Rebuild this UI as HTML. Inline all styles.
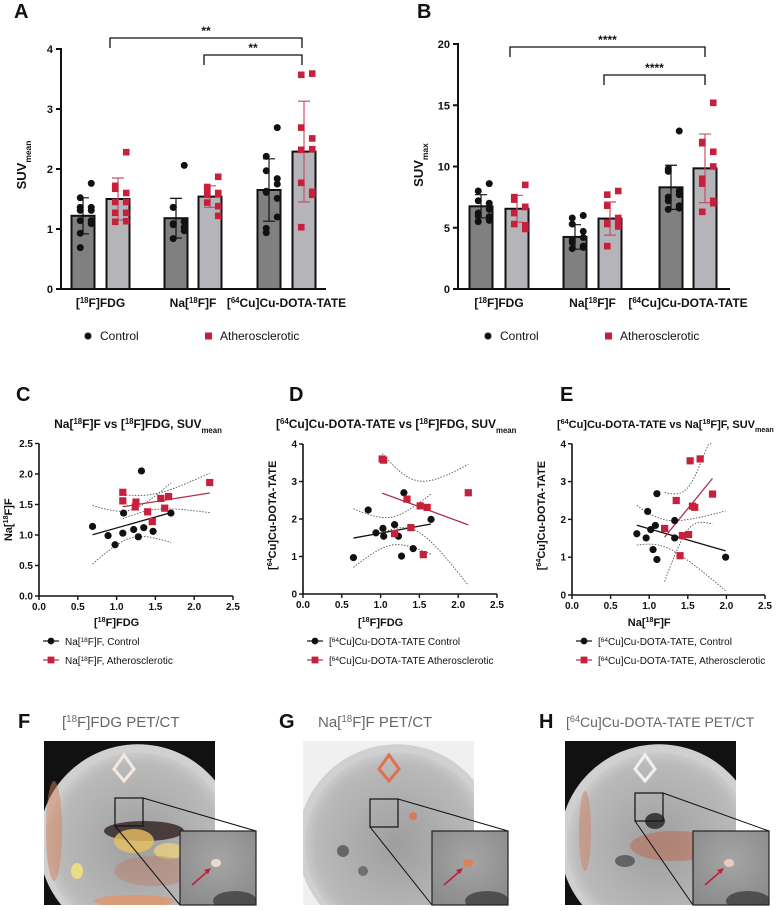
<!DOCTYPE html>
<html><head><meta charset="utf-8"><style>
html,body{margin:0;padding:0;background:#fff;}
svg{display:block;font-family:"Liberation Sans",Arial,sans-serif;}
</style></head><body>
<svg id="fig" width="780" height="911" viewBox="0 0 780 911" xmlns="http://www.w3.org/2000/svg">
<defs id="defs">
<radialGradient id="ctg" cx="50%" cy="50%" r="55%"><stop offset="0" stop-color="#9e9e9e"/><stop offset="0.8" stop-color="#bababa"/><stop offset="1" stop-color="#d8d8d8"/></radialGradient>
<radialGradient id="ins" cx="50%" cy="40%" r="70%"><stop offset="0" stop-color="#a5a5a5"/><stop offset="1" stop-color="#8a8a8a"/></radialGradient>
</defs>
</svg>
<script>
// ---------- Data: panel A (SUVmean) ----------
const groups = ["[18F]FDG", "Na[18F]F", "[64Cu]Cu-DOTA-TATE"];
const aCtrlMean = [1.22, 1.18, 1.65];
const aCtrlSd = [0.30, 0.33, 0.52];
const aAthMean = [1.50, 1.54, 2.29];
const aAthSd = [0.35, 0.18, 0.84];
const aCtrlPts = [[1.76,1.52,1.36,1.36,1.31,1.31,1.14,1.14,1.09,0.93,0.69],[2.06,1.36,1.36,1.13,1.12,1.09,1.07,1.03,0.97,0.84],[2.69,2.21,1.97,1.84,1.75,1.63,1.61,1.51,1.20,1.01,0.94]];
const aAthPts = [[2.28,1.72,1.67,1.60,1.45,1.45,1.27,1.27,1.13,1.12],[1.87,1.70,1.63,1.60,1.58,1.57,1.44,1.38,1.22],[3.59,3.57,2.69,2.51,2.33,2.32,1.77,1.62,1.57,1.03]];
const aTicks = [0,1,2,3,4];
// ---------- Data: panel B (SUVmax) ----------
const bCtrlMean = [6.75, 4.25, 8.3];
const bCtrlSd = [0.95, 1.0, 1.8];
const bAthMean = [6.55, 5.75, 9.85];
const bAthSd = [1.1, 1.35, 2.8];
const bCtrlPts = [[8.6,8.0,7.2,7.0,6.5,6.2,6.0,5.9,5.6,5.5],[6.0,5.8,5.3,4.7,4.2,4.0,3.8,3.5,3.4,3.3],[12.9,9.8,9.6,8.0,7.7,7.5,7.2,6.8,6.6,6.5]];
const bAthPts = [[8.5,7.5,7.3,6.7,6.7,6.2,5.3,5.2,4.9],[8.0,7.7,6.8,5.8,5.5,5.4,5.3,5.2,5.1,3.5],[15.2,12.0,11.9,11.2,10.0,9.0,8.6,7.2,7.0,6.3]];
const bTicks = [0,5,10,15,20];
// ---------- Data: panel C ----------
const cCtrlX = [0.69,0.89,0.98,1.08,1.09,1.22,1.28,1.32,1.35,1.47,1.70];
const cCtrlY = [1.14,0.99,0.84,1.03,1.36,1.09,0.97,2.05,1.12,1.06,1.36];
const cAthX = [1.08,1.08,1.24,1.25,1.40,1.46,1.57,1.62,1.67,2.20];
const cAthY = [1.56,1.70,1.46,1.54,1.38,1.22,1.60,1.44,1.63,1.86];
const cYTicks = [0,0.5,1.0,1.5,2.0,2.5];
// ---------- Data: panel D ----------
const dCtrlX = [0.65,0.84,0.94,1.03,1.04,1.18,1.23,1.27,1.30,1.42,1.65];
const dCtrlY = [0.97,2.24,1.63,1.75,1.54,1.85,1.54,1.01,2.70,1.21,1.99];
const dAthX = [1.02,1.04,1.18,1.34,1.39,1.51,1.60,1.55,2.13];
const dAthY = [3.60,3.57,1.61,2.53,1.77,2.35,2.31,1.05,2.70];
// ---------- Data: panel E ----------
const eCtrlX = [0.84,0.96,0.98,1.02,1.08,1.05,1.10,1.10,1.33,1.33,1.99];
const eCtrlY = [1.62,1.51,2.21,1.73,1.84,1.20,0.94,2.68,1.51,1.97,1.00];
const eAthX = [1.20,1.35,1.40,1.43,1.51,1.53,1.56,1.59,1.66,1.82];
const eAthY = [1.76,2.50,1.04,1.57,1.60,3.55,2.35,2.32,3.60,2.67];
const xTicksScatter = [0,0.5,1.0,1.5,2.0,2.5];
const yTicksCu = [0,1,2,3,4];

const NS = "http://www.w3.org/2000/svg";
const svg = document.getElementById('fig');
const defs = document.getElementById('defs');
const RED = "#c8203c";
function mk(tag, attrs, parent){ const e=document.createElementNS(NS,tag); for(const k in attrs) e.setAttribute(k,attrs[k]); (parent||svg).appendChild(e); return e; }
function grp(name){ const g=mk('g',{});   return g; }
function rtext(parent, x, y, parts, opts){
  const t=mk('text',Object.assign({x:x,y:y,'font-size':12,'font-weight':'bold',fill:'#111'},opts||{}),parent);
  const fs=(opts&&opts['font-size'])||12;
  parts.forEach(p=>{ const s=mk('tspan',{},t); s.textContent=p[0];
    if(p[1]===1){s.setAttribute('baseline-shift','super');s.setAttribute('font-size',fs*0.65);}
    if(p[1]===2){s.setAttribute('baseline-shift','sub');s.setAttribute('font-size',fs*0.65);} });
  return t;
}
const groupParts = [[["[",0],["18",1],["F]FDG",0]],[["Na[",0],["18",1],["F]F",0]],[["[",0],["64",1],["Cu]Cu-DOTA-TATE",0]]];

function barPanel(cfg){
  const g=grp(cfg.name);
  const y=v=>cfg.y0-(v/cfg.ymax)*(cfg.y0-cfg.ytop);
  const L=mk('text',{x:cfg.lx,y:18,'font-size':20,'font-weight':'bold',fill:'#111'},g); L.textContent=cfg.letter;
   
  for(let i=0;i<3;i++){
    [[cfg.ctrlMean,cfg.ctrlSd,cfg.ctrlPts,cfg.cx[i],'#808080','#111',0],[cfg.athMean,cfg.athSd,cfg.athPts,cfg.ax[i],'#b5b5b9','#c05466',1]].forEach(s=>{
      const m=s[0][i], sd=s[1][i], cx=s[3];
      const b=mk('rect',{x:cx-11.5,y:y(m),width:23,height:cfg.y0-y(m),fill:s[4],stroke:'#111','stroke-width':2},g);
       
      const e=mk('path',{d:`M${cx},${y(m-sd)}V${y(m+sd)}M${cx-6},${y(m+sd)}H${cx+6}M${cx-6},${y(m-sd)}H${cx+6}`,stroke:s[5],'stroke-width':1.2,fill:'none'},g);
       
      const pts=s[2][i];
      pts.forEach((v,k)=>{
        const off=((k%4)-1.5)*5.5*(k%2?1:-1);
        const px=cx+off, py=y(v);
        let p;
        if(s[6]) p=mk('rect',{x:px-3.3,y:py-3.3,width:6.6,height:6.6,fill:RED},g);
        else p=mk('circle',{cx:px,cy:py,r:3.5,fill:'#111'},g);
         
      });
    });
  }
  const ax=mk('path',{d:`M${cfg.ax0},${cfg.ytop-1}V${cfg.y0}H${cfg.axEnd}`,stroke:'#111','stroke-width':2,fill:'none'},g);
   
  cfg.ticks.forEach(t=>{
    mk('line',{x1:cfg.ax0-5,x2:cfg.ax0,y1:y(t),y2:y(t),stroke:'#111','stroke-width':2},g);
    const tl=mk('text',{x:cfg.ax0-8,y:y(t)+4,'font-size':11,'font-weight':'bold','text-anchor':'end',fill:'#111'},g); tl.textContent=t;
     
  });
  for(let i=0;i<3;i++){
    const c=(cfg.cx[i]+cfg.ax[i])/2;
    const t=rtext(g,c,307,groupParts[i],{'text-anchor':'middle','font-size':12});
     
  }
  const yl=rtext(g,0,0,[["SUV",0],[cfg.sub,2]],{'text-anchor':'middle','font-size':13,transform:`translate(${cfg.ax0-35},165) rotate(-90)`});
   
  cfg.brackets.forEach(br=>{
    const bb=mk('path',{d:`M${br[0]},${br[2]+10}V${br[2]}H${br[1]}V${br[2]+10}`,stroke:'#111','stroke-width':1.3,fill:'none'},g);
     
    const st=mk('text',{x:(br[0]+br[1])/2+br[4],y:br[2]-3,'font-size':12,'font-weight':'bold','text-anchor':'middle',fill:'#111'},g); st.textContent=br[3];
     
  });
  const lg=mk('g',{},g);  
  mk('circle',{cx:cfg.legX,cy:336,r:3.5,fill:'#111'},lg);
  const t1=mk('text',{x:cfg.legX+12,y:340,'font-size':12,fill:'#111'},lg); t1.textContent='Control';
   
  mk('rect',{x:cfg.legX+117,y:332.5,width:7,height:7,fill:RED},lg);
  const t2=mk('text',{x:cfg.legX+132,y:340,'font-size':12,fill:'#111'},lg); t2.textContent='Atherosclerotic';
   
}
barPanel({name:'panel-a-suvmean',letter:'A',lx:14,y0:289,ytop:49,ymax:4,ticks:aTicks,ax0:61,axEnd:326,cx:[83,176,269],ax:[118,210,304],
  ctrlMean:aCtrlMean,ctrlSd:aCtrlSd,athMean:aAthMean,athSd:aAthSd,ctrlPts:aCtrlPts,athPts:aAthPts,sub:'mean',
  brackets:[[110,302,38,'**',0],[204,302,55,'**',0]],legX:88});
barPanel({name:'panel-b-suvmax',letter:'B',lx:417,y0:289,ytop:44,ymax:20,ticks:bTicks,ax0:458,axEnd:730,cx:[481,575,671],ax:[517,610,705],
  ctrlMean:bCtrlMean,ctrlSd:bCtrlSd,athMean:bAthMean,athSd:bAthSd,ctrlPts:bCtrlPts,athPts:bAthPts,sub:'max',
  brackets:[[510,705,47,'****',0],[604,705,75,'****',0]],legX:488});

function fit(xs,ys){
  const n=xs.length, mx=xs.reduce((a,b)=>a+b)/n, my=ys.reduce((a,b)=>a+b)/n;
  let sxx=0,sxy=0; for(let i=0;i<n;i++){sxx+=(xs[i]-mx)**2; sxy+=(xs[i]-mx)*(ys[i]-my);}
  const b=sxy/sxx, a=my-b*mx; let sse=0; for(let i=0;i<n;i++) sse+=(ys[i]-a-b*xs[i])**2;
  return {a,b,mx,sxx,n,s:Math.sqrt(sse/(n-2))};
}
function scatterPanel(cfg){
  const g=grp(cfg.name);
  const X=v=>cfg.x0+v*cfg.kx, Y=v=>cfg.y0-v*cfg.ky;
  const L=mk('text',{x:cfg.lx,y:401,'font-size':20,'font-weight':'bold',fill:'#111'},g); L.textContent=cfg.letter;
   
  const ti=rtext(g,cfg.tx,428,cfg.title,{'font-size':cfg.tfs||12,'text-anchor':cfg.tanchor||'start'});
   
  [[cfg.cx,cfg.cy,'#111'],[cfg.axs,cfg.ays,'#b0304a']].forEach(s=>{
    const f=fit(s[0],s[1]); const lo=Math.min(...s[0]), hi=Math.max(...s[0]);
    const l=mk('line',{x1:X(lo),y1:Y(f.a+f.b*lo),x2:X(hi),y2:Y(f.a+f.b*hi),stroke:s[2],'stroke-width':1.3},g);
     
    [1,-1].forEach(sg=>{
      let d=''; for(let k=0;k<=30;k++){ const xv=lo+(hi-lo)*k/30;
        const h=2.306*f.s*Math.sqrt(1/f.n+(xv-f.mx)**2/f.sxx);
        let yv=f.a+f.b*xv+sg*h; yv=Math.max(cfg.ymin,Math.min(cfg.ymaxc,yv));
        d+=(k?'L':'M')+X(xv).toFixed(1)+','+Y(yv).toFixed(1);}
      const c=mk('path',{d:d,stroke:'#555','stroke-width':0.9,'stroke-dasharray':'1.5,1.5',fill:'none'},g);
       
    });
  });
  cfg.cx.forEach((v,i)=>{ const p=mk('circle',{cx:X(v),cy:Y(cfg.cy[i]),r:3.6,fill:'#111'},g);
      });
  cfg.axs.forEach((v,i)=>{ const p=mk('rect',{x:X(v)-3.6,y:Y(cfg.ays[i])-3.6,width:7.2,height:7.2,fill:RED},g);
      });
  const ax=mk('path',{d:`M${cfg.x0},${Y(cfg.yt[cfg.yt.length-1])}V${cfg.y0}H${X(2.5)}`,stroke:'#111','stroke-width':1.6,fill:'none'},g);
   
  cfg.yt.forEach(t=>{ mk('line',{x1:cfg.x0-4,x2:cfg.x0,y1:Y(t),y2:Y(t),stroke:'#111','stroke-width':1.4},g);
    const tl=mk('text',{x:cfg.x0-6,y:Y(t)+3.5,'font-size':10,'font-weight':'bold','text-anchor':'end',fill:'#111'},g); tl.textContent=cfg.yfmt?t.toFixed(1):t;
      });
  xTicksScatter.forEach(t=>{ mk('line',{x1:X(t),x2:X(t),y1:cfg.y0,y2:cfg.y0+4,stroke:'#111','stroke-width':1.4},g);
    const tl=mk('text',{x:X(t),y:cfg.y0+14,'font-size':10,'font-weight':'bold','text-anchor':'middle',fill:'#111'},g); tl.textContent=t.toFixed(1);
      });
  const xl=rtext(g,X(1.0),626,cfg.xlab,{'font-size':11,'text-anchor':'middle'});
   
  const yl=rtext(g,0,0,cfg.ylab,{'font-size':11,'text-anchor':'middle',transform:`translate(${cfg.x0-27},${Y(cfg.ylabPos)}) rotate(-90)`});
   
  const lg=mk('g',{},g);  
  const lx=cfg.x0+4;
  mk('line',{x1:lx,x2:lx+16,y1:641,y2:641,stroke:'#111','stroke-width':1.2},lg); mk('circle',{cx:lx+8,cy:641,r:3.4,fill:'#111'},lg);
  const l1=rtext(lg,lx+22,645,cfg.leg1,{'font-size':10,'font-weight':'normal'});  
  mk('line',{x1:lx,x2:lx+16,y1:660,y2:660,stroke:'#b0304a','stroke-width':1.2},lg); mk('rect',{x:lx+4.6,y:656.6,width:6.8,height:6.8,fill:RED},lg);
  const l2=rtext(lg,lx+22,664,cfg.leg2,{'font-size':10,'font-weight':'normal'});  
}
const cuLab=[["[",0],["64",1],["Cu]Cu-DOTA-TATE",0]];
scatterPanel({name:'panel-c-scatter',letter:'C',lx:16,tx:138,tanchor:'middle',x0:39,kx:77.6,y0:596,ky:61,ymin:0,ymaxc:2.5,yt:cYTicks,yfmt:true,
  title:[["Na[",0],["18",1],["F]F vs [",0],["18",1],["F]FDG, SUV",0],["mean",2]],
  cx:cCtrlX,cy:cCtrlY,axs:cAthX,ays:cAthY,xlab:[["[",0],["18",1],["F]FDG",0]],ylab:[["Na[",0],["18",1],["F]F",0]],ylabPos:1.25,
  leg1:[["Na[",0],["18",1],["F]F, Control",0]],leg2:[["Na[",0],["18",1],["F]F, Atherosclerotic",0]]});
scatterPanel({name:'panel-d-scatter',letter:'D',lx:289,tx:276,x0:303,kx:77.6,y0:594,ky:37.5,ymin:0,ymaxc:4,yt:yTicksCu,
  title:[["[",0],["64",1],["Cu]Cu-DOTA-TATE vs [",0],["18",1],["F]FDG, SUV",0],["mean",2]],
  cx:dCtrlX,cy:dCtrlY,axs:dAthX,ays:dAthY,xlab:[["[",0],["18",1],["F]FDG",0]],ylab:cuLab,ylabPos:2.1,
  leg1:[["[",0],["64",1],["Cu]Cu-DOTA-TATE Control",0]],leg2:[["[",0],["64",1],["Cu]Cu-DOTA-TATE Atherosclerotic",0]]});
scatterPanel({name:'panel-e-scatter',letter:'E',lx:560,tx:557,tfs:11,x0:572,kx:77.2,y0:595,ky:37.8,ymin:0,ymaxc:4,yt:yTicksCu,
  title:[["[",0],["64",1],["Cu]Cu-DOTA-TATE vs Na[",0],["18",1],["F]F, SUV",0],["mean",2]],
  cx:eCtrlX,cy:eCtrlY,axs:eAthX,ays:eAthY,xlab:[["Na[",0],["18",1],["F]F",0]],ylab:cuLab,ylabPos:2.1,
  leg1:[["[",0],["64",1],["Cu]Cu-DOTA-TATE, Control",0]],leg2:[["[",0],["64",1],["Cu]Cu-DOTA-TATE, Atherosclerotic",0]]});

// ---------- PET/CT image panels (illustrative) ----------
function petPanel(cfg){
  const g=grp(cfg.name);
  const L=mk('text',{x:cfg.lx,y:728,'font-size':20,'font-weight':'bold',fill:'#111'},g); L.textContent=cfg.letter;
   
  const t=rtext(g,cfg.tx,727,cfg.title,{'font-size':cfg.tfs||15,'font-weight':'normal',fill:'#666'});
   
  const x=cfg.x, y=741, w=171, h=164;
  const cp=mk('clipPath',{id:'clip-'+cfg.letter},defs);
  mk('rect',{x:x,y:y,width:w,height:h},cp);
  const im=mk('g',{'clip-path':`url(#clip-${cfg.letter})`},g);  
  mk('rect',{x:x,y:y,width:w,height:h,fill:cfg.bg},im);
  mk('ellipse',{cx:x+w*0.55,cy:y+h*0.62,rx:w*0.58,ry:h*0.6,fill:'#d0d0d0'},im);
  mk('ellipse',{cx:x+w*0.55,cy:y+h*0.63,rx:w*0.54,ry:h*0.56,fill:'url(#ctg)'},im);
  cfg.blobs.forEach(b=>mk('ellipse',{cx:x+b[0],cy:y+b[1],rx:b[2],ry:b[3],fill:b[4],opacity:b[5]},im));
  mk('path',{d:`M${x+cfg.vx-10},${y+28}l10,-14l10,14l-10,12z`,stroke:cfg.vc,'stroke-width':3,fill:'none'},im);
  const lines=mk('path',{d:`M${cfg.sb[0]+28},${cfg.sb[1]}L${cfg.ix+76},${cfg.iy}M${cfg.sb[0]},${cfg.sb[1]+28}L${cfg.ix},${905}`,stroke:'#111','stroke-width':1},g);
   
  mk('rect',{x:cfg.sb[0],y:cfg.sb[1],width:28,height:28,fill:'none',stroke:'#111','stroke-width':1.2},g);
  const ins=mk('g',{},g);  
  const icp=mk('clipPath',{id:'iclip-'+cfg.letter},defs);
  mk('rect',{x:cfg.ix,y:cfg.iy,width:76,height:905-cfg.iy},icp);
  const ig=mk('g',{'clip-path':`url(#iclip-${cfg.letter})`},ins);
  mk('rect',{x:cfg.ix,y:cfg.iy,width:76,height:905-cfg.iy,fill:'url(#ins)'},ig);
  mk('ellipse',{cx:cfg.ix+55,cy:cfg.iy+70,rx:22,ry:10,fill:'#333',opacity:0.7},ig);
  mk('ellipse',{cx:cfg.ix+36,cy:cfg.iy+32,rx:5,ry:4,fill:cfg.spot,opacity:0.9},ig);
  mk('path',{d:`M${cfg.ix+12},${cfg.iy+54}L${cfg.ix+28},${cfg.iy+40}`,stroke:'#c0203a','stroke-width':1.6},ig);
  mk('path',{d:`M${cfg.ix+31},${cfg.iy+37}l-7,2l4,4z`,fill:'#c0203a'},ig);
  mk('rect',{x:cfg.ix,y:cfg.iy,width:76,height:905-cfg.iy,fill:'none',stroke:'#222','stroke-width':1.2},ins);
}
petPanel({name:'panel-f-fdg-image',letter:'F',lx:18,tx:62,title:[["[",0],["18",1],["F]FDG PET/CT",0]],x:44,bg:'#111',vx:80,vc:'#f4e8e0',
  sb:[115,798],ix:180,iy:831,spot:'#f0e0d0',
  blobs:[[10,90,8,50,'#d2825a',0.5],[100,90,40,10,'#302020',0.8],[90,100,20,12,'#e8c060',0.8],[125,110,15,8,'#e8d080',0.8],[33,130,6,8,'#f0e080',0.9],[90,160,40,6,'#e89060',0.7],[110,130,40,15,'#c07050',0.35]]});
petPanel({name:'panel-g-naf-image',letter:'G',lx:279,tx:318,title:[["Na[",0],["18",1],["F]F PET/CT",0]],x:303,bg:'#f0f0f0',vx:86,vc:'#e07050',
  sb:[370,799],ix:432,iy:831,spot:'#e08050',
  blobs:[[40,110,6,6,'#333',0.6],[60,130,5,5,'#333',0.5],[110,75,4,4,'#e07040',0.8]]});
petPanel({name:'panel-h-cu-image',letter:'H',lx:539,tx:566,tfs:14,title:[["[",0],["64",1],["Cu]Cu-DOTA-TATE PET/CT",0]],x:565,bg:'#111',vx:80,vc:'#f0f0f0',
  sb:[635,793],ix:693,iy:831,spot:'#f0d0c0',
  blobs:[[90,80,10,8,'#222',0.8],[110,105,45,15,'#c06040',0.45],[60,120,10,6,'#333',0.6],[20,90,6,40,'#d08060',0.5]]});
</script>
</body></html>
